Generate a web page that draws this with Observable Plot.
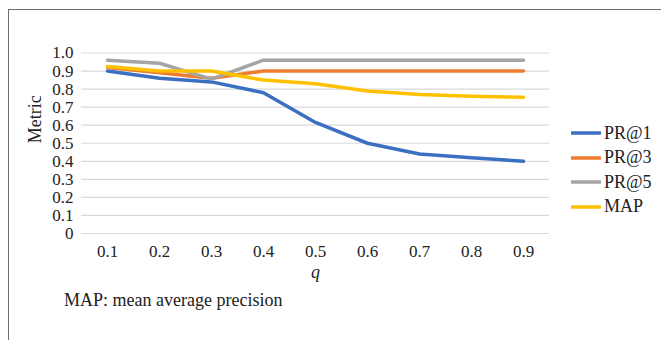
<!DOCTYPE html>
<html>
<head>
<meta charset="utf-8">
<script src="https://cdn.jsdelivr.net/npm/d3@7"></script>
<script src="https://cdn.jsdelivr.net/npm/@observablehq/plot@0.6"></script>
<style>
  body { margin: 0; background: #fff; font-family: "Liberation Serif", Tinos, "Times New Roman", Times, "Noto Serif", "DejaVu Serif", FreeSerif, serif; }
  #wrap { position: relative; width: 661px; height: 340px; overflow: hidden; }
  #frame { position: absolute; left: 8px; top: 9px; width: 700px; height: 400px; border-left: 1.5px solid #6e6e6e; border-top: 1.5px solid #6e6e6e; }
  #chart { position: absolute; left: 0; top: 0; }
  #legend { position: absolute; left: 571px; top: 121px; font-size: 18px; color: #222; }
  #legend .item { display: flex; align-items: center; height: 24.5px; }
  #legend svg { margin-right: 3px; }
  #caption { position: absolute; left: 64px; top: 290px; font-size: 18px; color: #222; }
</style>
</head>
<body>
<div id="wrap">
  <div id="frame"></div>
  <div id="chart"></div>
  <div id="legend"></div>
  <div id="caption">MAP: mean average precision</div>
</div>
<script>
const qValues = ["0.1", "0.2", "0.3", "0.4", "0.5", "0.6", "0.7", "0.8", "0.9"];
const pr1 = [0.90, 0.86, 0.84, 0.78, 0.615, 0.50, 0.44, 0.42, 0.40];
const pr3 = [0.92, 0.89, 0.86, 0.90, 0.90, 0.90, 0.90, 0.90, 0.90];
const pr5 = [0.96, 0.943, 0.855, 0.96, 0.96, 0.96, 0.96, 0.96, 0.96];
const mapv = [0.925, 0.90, 0.90, 0.85, 0.83, 0.79, 0.77, 0.76, 0.755];
const seriesNames = ["PR@1", "PR@3", "PR@5", "MAP"];
const seriesColors = ["#3b6fc2", "#ed7d31", "#a5a5a5", "#ffc000"];
const yTicks = [0, 0.1, 0.2, 0.3, 0.4, 0.5, 0.6, 0.7, 0.8, 0.9, 1.0];

const seriesValues = [pr1, pr3, pr5, mapv];
const data = [];
seriesNames.forEach((name, i) => {
  qValues.forEach((q, j) => data.push({series: name, q, value: seriesValues[i][j]}));
});

const serif = '"Liberation Serif", Tinos, "Times New Roman", Times, "Noto Serif", "DejaVu Serif", FreeSerif, serif';
const W = 661, H = 290;
const chart = Plot.plot({
  width: W,
  height: H,
  marginTop: 52.5,
  marginBottom: 57,
  marginLeft: 81,
  marginRight: 112,
  style: { fontFamily: serif, fontSize: "17px", color: "#222", background: "transparent" },
  x: { type: "point", domain: qValues, padding: 0.5 },
  y: { domain: [0, 1] },
  color: { domain: seriesNames, range: seriesColors },
  marks: [
    Plot.gridY(yTicks, { stroke: "#d9d9d9", strokeOpacity: 1, strokeWidth: 1.2 }),
    Plot.axisY(yTicks, {
      tickSize: 0, tickPadding: 8, fontSize: 17,
      tickFormat: d => d === 0 ? "0" : d.toFixed(1),
      label: null
    }),
    Plot.axisX({ tickSize: 0, tickPadding: 11, fontSize: 17, label: null }),
    Plot.text(["Metric"], { frameAnchor: "left", dx: -46, rotate: -90, fontSize: 18, fill: "#222" }),
    Plot.text(["q"], { frameAnchor: "bottom", dy: 44, fontStyle: "italic", fontSize: 18, fill: "#222" }),
    Plot.line(data, { x: "q", y: "value", z: "series", stroke: "series", strokeWidth: 3.5, strokeLinejoin: "round" })
  ]
});
document.getElementById("chart").appendChild(chart);

const legend = document.getElementById("legend");
seriesNames.forEach((name, i) => {
  const item = document.createElement("div");
  item.className = "item";
  item.innerHTML = `<svg width="30" height="8"><line x1="1" x2="29" y1="4" y2="4" stroke="${seriesColors[i]}" stroke-width="3.5" stroke-linecap="round"/></svg><span>${name}</span>`;
  legend.appendChild(item);
});
</script>
</body>
</html>
